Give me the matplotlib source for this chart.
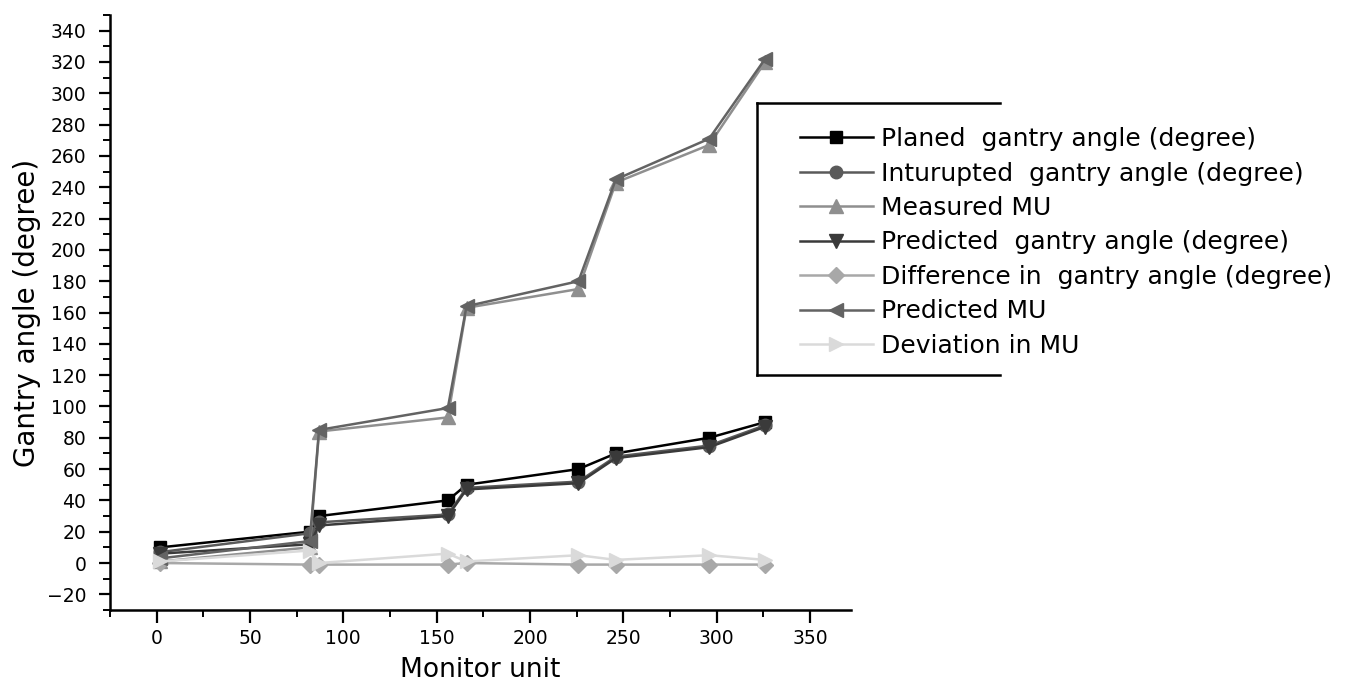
import matplotlib
matplotlib.use("Agg")
import matplotlib.pyplot as plt
from matplotlib.lines import Line2D
from matplotlib.ticker import MultipleLocator

# ---- data ----
monitor_unit = [2, 82, 87, 156, 166, 226, 246, 296, 326]
planned_angle = [10, 20, 30, 40, 50, 60, 70, 80, 90]
interrupted_angle = [7, 19, 26, 31, 48, 52, 68, 75, 88]
measured_mu = [1, 10, 84, 93, 163, 175, 243, 267, 320]
predicted_angle = [6, 12, 24, 30, 47, 51, 67, 74, 87]
difference_angle = [0, -1, -1, -1, 0, -1, -1, -1, -1]
predicted_mu = [3, 14, 85, 99, 164, 180, 245, 271, 322]
deviation_mu = [1, 8, 0, 6, 1, 5, 2, 5, 2]

labels = [
    "Planed  gantry angle (degree)",
    "Inturupted  gantry angle (degree)",
    "Measured MU",
    "Predicted  gantry angle (degree)",
    "Difference in  gantry angle (degree)",
    "Predicted MU",
    "Deviation in MU",
]
series = [planned_angle, interrupted_angle, measured_mu, predicted_angle,
          difference_angle, predicted_mu, deviation_mu]
colors = ["#000000", "#5a5a5a", "#8f8f8f", "#3a3a3a", "#a8a8a8", "#636363", "#dadada"]
markers = ["s", "o", "^", "v", "D", "<", ">"]
msizes = [9, 9, 10.5, 10.5, 8.5, 10.5, 10.5]

plt.rcParams['font.family'] = ['DejaVu Sans']

W, H = 1352, 698
fig = plt.figure(figsize=(W / 100, H / 100), dpi=100)
ax = fig.add_axes([110 / W, (H - 610) / H, (851 - 110) / W, (610 - 15) / H])

for ys, c, m, ms, lab in zip(series, colors, markers, msizes, labels):
    ax.plot(monitor_unit, ys, color=c, marker=m, markersize=ms, linewidth=1.8,
            markeredgecolor=c, label=lab)

ax.set_xlim(-25, 372)
ax.set_ylim(-30, 350)
ax.xaxis.set_major_locator(MultipleLocator(50))
ax.xaxis.set_minor_locator(MultipleLocator(25))
ax.yaxis.set_major_locator(MultipleLocator(20))
ax.yaxis.set_minor_locator(MultipleLocator(10))
ax.set_xticks(range(0, 351, 50))

for s in ["top", "right"]:
    ax.spines[s].set_visible(False)
for s in ["left", "bottom"]:
    ax.spines[s].set_linewidth(1.8)

ax.tick_params(axis="both", which="major", direction="out", width=1.6, labelsize=13.5)
ax.tick_params(axis="x", which="major", length=9, pad=5)
ax.tick_params(axis="y", which="major", length=8, pad=9)
ax.tick_params(axis="both", which="minor", direction="out", width=1.4, length=5)

ax.set_xlabel("Monitor unit", fontsize=19, labelpad=6)
ax.set_ylabel("Gantry angle (degree)", fontsize=20, labelpad=4)

# legend (frameless; partial box drawn separately)
leg = fig.legend(loc="upper left", bbox_to_anchor=(800 / W, 1 - 127 / H),
                 frameon=False, fontsize=18, borderpad=0, borderaxespad=0,
                 handlelength=2.9, handletextpad=0.35, labelspacing=0.42)

def fx(px):
    return px / W

def fy(py):
    return 1 - py / H

box_kw = dict(color="black", linewidth=1.8, transform=fig.transFigure)
fig.add_artist(Line2D([fx(757), fx(757)], [fy(103), fy(375)], **box_kw))
fig.add_artist(Line2D([fx(757), fx(1000)], [fy(103), fy(103)], **box_kw))
fig.add_artist(Line2D([fx(757), fx(1000)], [fy(375), fy(375)], **box_kw))

fig.savefig("out.png", dpi=100)
